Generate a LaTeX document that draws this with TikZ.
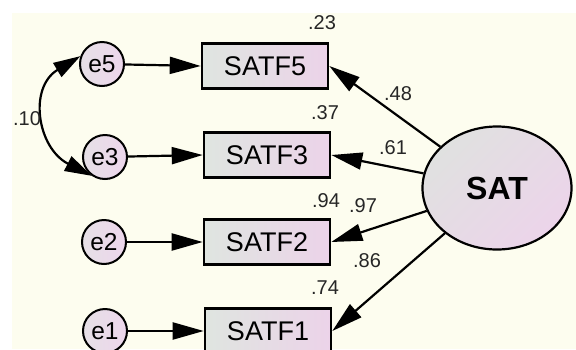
\documentclass[tikz,border=0pt]{standalone}
\usepackage{fontspec}
\setmainfont{Liberation Sans}
\usetikzlibrary{arrows.meta,shapes.geometric}

\definecolor{paper}{HTML}{FDFDEF}
\definecolor{boxL}{HTML}{DFE5E0}
\definecolor{boxR}{HTML}{ECD3E9}
\definecolor{errL}{HTML}{E6E0E6}
\definecolor{errR}{HTML}{EDD6EC}
\definecolor{latA}{HTML}{E0E1E0}
\definecolor{latB}{HTML}{ECD4EA}
\definecolor{numc}{HTML}{262626}

\begin{document}
\begin{tikzpicture}[x=1pt,y=1pt,
  errnode/.style={circle, draw, line width=2pt, minimum size=44pt, inner sep=0pt,
    left color=errL, right color=errR, font=\fontsize{24.5}{24.5}\selectfont},
  obsnode/.style={rectangle, draw, line width=2.6pt, minimum width=126pt, minimum height=45pt,
    inner sep=0pt, left color=boxL, right color=boxR, font=\fontsize{27}{27}\selectfont},
  latnode/.style={ellipse, draw, line width=2.2pt, minimum width=149pt, minimum height=123pt,
    inner sep=0pt, top color=latA, bottom color=latB, shading angle=45,
    font=\fontsize{32}{32}\selectfont\bfseries},
  pathline/.style={line width=2.2pt, -{Triangle[length=31pt,width=17pt]}},
  covline/.style={line width=2.2pt, {Triangle[length=27pt,width=16pt]}-{Triangle[length=27pt,width=16pt]}},
  numlabel/.style={font=\fontsize{20}{20}\selectfont, text=numc, inner sep=0pt}]

% canvas: white frame strip with a cream drawing area
\fill[white] (0,0) rectangle (576,-349);
\useasboundingbox (0,0) rectangle (576,-349);
\fill[paper] (12,-13) rectangle (576,-349);

% latent factor
\node[latnode] (sat) at (497,-188) {SAT};

% observed indicators
\node[obsnode] (satf5) at (265,-66)  {SATF5};
\node[obsnode] (satf3) at (267,-155) {SATF3};
\node[obsnode] (satf2) at (267,-242) {SATF2};
\node[obsnode] (satf1) at (268,-331) {SATF1};

% error terms
\node[errnode] (e5) at (102,-64)  {e5};
\node[errnode] (e3) at (105,-157) {e3};
\node[errnode] (e2) at (104,-242) {e2};
\node[errnode] (e1) at (105,-331) {e1};

% error paths
\draw[pathline] (e5) -- (satf5.west);
\draw[pathline] (e3) -- (satf3.west);
\draw[pathline] (e2) -- (satf2.west);
\draw[pathline] (e1) -- (satf1.west);

% factor loadings
\draw[pathline] (sat) -- (satf5.east);
\draw[pathline] (sat) -- (satf3.east);
\draw[pathline] (sat) -- (satf2.east);
\draw[pathline] (sat) -- (satf1.east);

% error covariance
\draw[covline] (e5.160) to[out=211,in=153,looseness=1.3] (e3.235);

% estimates
\node[numlabel] (r5) at (322,-23)  {.23};
\node[numlabel] (r3) at (325,-113) {.37};
\node[numlabel] (r2) at (326,-201) {.94};
\node[numlabel] (r1) at (325,-288) {.74};
\node[numlabel] (l5) at (398,-94)  {.48};
\node[numlabel] (l3) at (393,-148) {.61};
\node[numlabel] (l2) at (363,-206) {.97};
\node[numlabel] (l1) at (367,-261) {.86};
\node[numlabel] (c53) at (27,-119) {.10};
\end{tikzpicture}
\end{document}
